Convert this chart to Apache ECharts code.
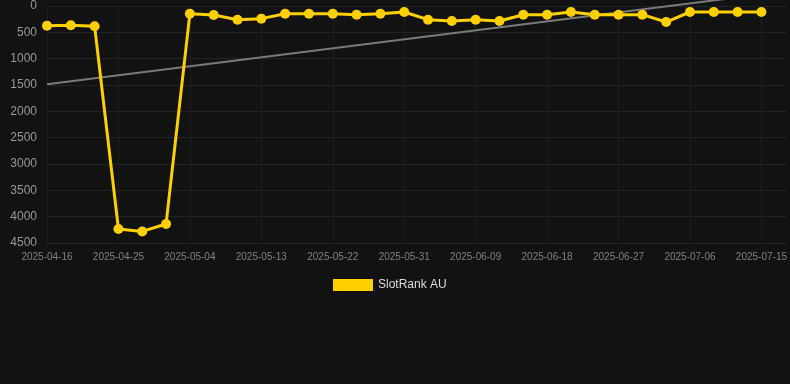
<!DOCTYPE html>
<html>
<head>
<meta charset="utf-8">
<style>
  html, body { margin: 0; padding: 0; background: #121212; }
  #chart { width: 790px; height: 384px; }
</style>
<script src="https://cdn.jsdelivr.net/npm/echarts@6/dist/echarts.min.js"></script>
</head>
<body>
<div id="chart"></div>
<script>
// Dates relevées (tous les 3 jours)
const sampleDates = [
  "2025-04-16", "2025-04-19", "2025-04-22", "2025-04-25", "2025-04-28", "2025-05-01",
  "2025-05-04", "2025-05-07", "2025-05-10", "2025-05-13", "2025-05-16", "2025-05-19",
  "2025-05-22", "2025-05-25", "2025-05-28", "2025-05-31", "2025-06-03", "2025-06-06",
  "2025-06-09", "2025-06-12", "2025-06-15", "2025-06-18", "2025-06-21", "2025-06-24",
  "2025-06-27", "2025-06-30", "2025-07-03", "2025-07-06", "2025-07-09", "2025-07-12",
  "2025-07-15"
];
// Rang SlotRank AU
const ranks = [
  374, 367, 386, 4235, 4280, 4140,
  146, 171, 260, 240, 146, 146,
  146, 165, 146, 114, 260, 285,
  260, 285, 165, 165, 114, 165,
  165, 165, 304, 114, 114, 114,
  114
];
// Ligne de tendance (début / fin)
const trendDates = ["2025-04-16", "2025-07-15"];
const trendValues = [1485, -220];

const yTicks = [0, 500, 1000, 1500, 2000, 2500, 3000, 3500, 4000, 4500];

// Axe en jours : du 16/04 jusqu'à un peu après la dernière mesure
const firstDay = "2025-04-16";
const lastDay = "2025-07-18";
const days = [];
for (let d = new Date(firstDay + "T00:00:00Z"); d <= new Date(lastDay + "T00:00:00Z"); d.setUTCDate(d.getUTCDate() + 1)) {
  days.push(d.toISOString().slice(0, 10));
}

const font = "Liberation Sans, Arial, sans-serif";
const chart = echarts.init(document.getElementById("chart"));

chart.setOption({
  backgroundColor: "#121212",
  animation: false,
  grid: { left: 47, right: 4, top: 6, bottom: 141 },
  legend: {
    top: 274,
    left: 328,
    itemWidth: 40,
    itemHeight: 12,
    itemGap: 10,
    textStyle: { color: "#dddddd", fontSize: 12, fontFamily: font },
    data: [{ name: "SlotRank AU", icon: "rect" }]
  },
  xAxis: {
    type: "category",
    data: days,
    boundaryGap: false,
    axisLine: { show: false },
    axisTick: { show: false },
    axisLabel: { interval: 8, color: "#808080", fontSize: 10, margin: 9, fontFamily: font },
    splitLine: { show: true, interval: 8, lineStyle: { color: "#1c1c1c", width: 1 } }
  },
  yAxis: {
    type: "value",
    inverse: true,
    min: yTicks[0],
    max: yTicks[yTicks.length - 1],
    interval: yTicks[1] - yTicks[0],
    axisLine: { show: false },
    axisTick: { show: false },
    axisLabel: {
      color: "#999999",
      fontSize: 12,
      margin: 10,
      fontFamily: font,
      formatter: (v) => String(v)
    },
    splitLine: { lineStyle: { color: "#232323", width: 1 } }
  },
  series: [
    {
      name: "Tendance",
      type: "line",
      clip: false,
      silent: true,
      symbol: "none",
      lineStyle: { color: "#7a7a7a", width: 2 },
      data: trendDates.map((d, i) => [d, trendValues[i]]),
      z: 1
    },
    {
      name: "SlotRank AU",
      type: "line",
      symbol: "circle",
      symbolSize: 10,
      showAllSymbol: true,
      itemStyle: { color: "#ffd000" },
      lineStyle: { color: "#ffd000", width: 3 },
      data: sampleDates.map((d, i) => [d, ranks[i]]),
      z: 2
    }
  ]
});
</script>
</body>
</html>
